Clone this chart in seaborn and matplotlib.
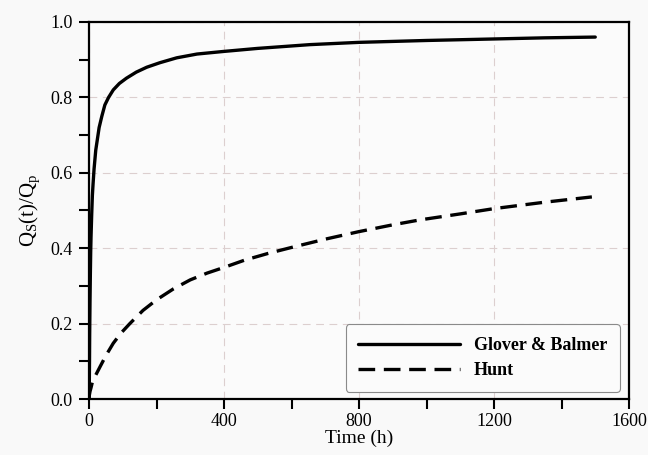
import numpy as np
import pandas as pd
import matplotlib
matplotlib.use("Agg")
import matplotlib.pyplot as plt
from matplotlib.ticker import MultipleLocator
import seaborn as sns

# values
glover_t = [0, 0.5, 1, 1.5, 2, 3, 4, 5, 6, 8, 10, 12, 15, 20, 25, 30, 38, 47, 58, 72, 90,
            111, 140, 171, 210, 260, 320, 400, 500, 655, 800, 1000, 1200, 1350, 1500]
glover_q = [0, 0.01, 0.05, 0.1, 0.17, 0.26, 0.33, 0.39, 0.43, 0.49, 0.54, 0.57, 0.61, 0.66,
            0.69, 0.72, 0.75, 0.78, 0.80, 0.82, 0.837, 0.851, 0.867, 0.88, 0.892, 0.905,
            0.915, 0.922, 0.93, 0.94, 0.946, 0.951, 0.955, 0.958, 0.96]
hunt_t = [0, 1, 3, 6, 10, 18, 33, 50, 72, 95, 121, 160, 200, 250, 300, 350, 400, 460, 530,
          600, 700, 800, 900, 980, 1100, 1200, 1350, 1490]
hunt_q = [0, 0.01, 0.02, 0.03, 0.045, 0.06, 0.086, 0.115, 0.148, 0.175, 0.2, 0.235, 0.263,
          0.292, 0.316, 0.334, 0.349, 0.368, 0.386, 0.402, 0.424, 0.444, 0.462, 0.475, 0.491,
          0.505, 0.522, 0.536]

df = pd.concat([
    pd.DataFrame({"t": glover_t, "q": glover_q, "model": "Glover & Balmer"}),
    pd.DataFrame({"t": hunt_t, "q": hunt_q, "model": "Hunt"}),
])

sns.set_style("white")
plt.rcParams["font.family"] = ["Liberation Serif", "DejaVu Serif"]
plt.rcParams["mathtext.fontset"] = "custom"
plt.rcParams["mathtext.rm"] = "Liberation Serif"
plt.rcParams["mathtext.it"] = "Liberation Serif"
plt.rcParams["text.color"] = "black"
plt.rcParams["axes.labelcolor"] = "black"
plt.rcParams["xtick.color"] = "black"
plt.rcParams["ytick.color"] = "black"

fig = plt.figure(figsize=(6.48, 4.55), dpi=100, facecolor="#f9f9f9")
ax = fig.add_axes([89 / 648, 1 - 399 / 455, 540 / 648, 377 / 455])
ax.set_facecolor("#fbfbfb")

sns.lineplot(data=df, x="t", y="q", style="model", color="black", linewidth=2.4,
             dashes={"Glover & Balmer": "", "Hunt": (5, 2.6)}, ax=ax, sort=False)

ax.set_xlim(0, 1600)
ax.set_ylim(0, 1.0)
ax.xaxis.set_major_locator(MultipleLocator(400))
ax.xaxis.set_minor_locator(MultipleLocator(200))
ax.yaxis.set_major_locator(MultipleLocator(0.2))
ax.yaxis.set_minor_locator(MultipleLocator(0.1))
ax.yaxis.set_major_formatter(matplotlib.ticker.FormatStrFormatter("%.1f"))
ax.tick_params(which="both", direction="out", length=7, width=1.5, bottom=True, left=True,
               labelsize=13)
ax.tick_params(axis="x", pad=3)
ax.tick_params(axis="y", pad=5)
ax.grid(True, which="major", color="#dccfcf", linestyle=(0, (7, 5)), linewidth=0.8)
for s in ax.spines.values():
    s.set_linewidth(1.6)
    s.set_color("black")

ax.set_xlabel("Time (h)", fontsize=14, labelpad=0)
ax.set_ylabel(r"$\mathregular{Q_S(t)/Q_p}$", fontsize=15, labelpad=6)

leg = ax.legend(loc="lower right", bbox_to_anchor=(1.0, -0.005), fancybox=True,
                prop={"weight": "bold", "size": 13}, handlelength=5.6, borderpad=0.7,
                labelspacing=0.45, handletextpad=0.8, framealpha=1)
leg.set_title(None)
leg.get_frame().set_edgecolor("#8a8a8a")
leg.get_frame().set_linewidth(0.8)
leg.get_frame().set_facecolor("#fbfbfb")

fig.savefig("out.png", dpi=100, facecolor=fig.get_facecolor())
